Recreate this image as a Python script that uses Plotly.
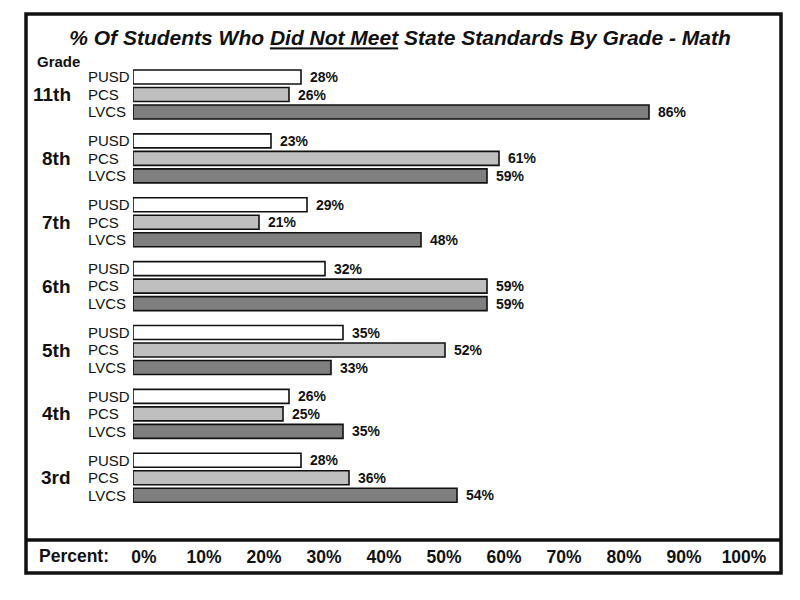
#!/usr/bin/env python3

import plotly.graph_objects as go

# data
grades = ["11th", "8th", "7th", "6th", "5th", "4th", "3rd"]
schools = ["PUSD", "PCS", "LVCS"]
pusd = [28, 23, 29, 32, 35, 26, 28]
pcs = [26, 61, 21, 59, 52, 25, 36]
lvcs = [86, 59, 48, 59, 33, 35, 54]
x_ticks = [0, 10, 20, 30, 40, 50, 60, 70, 80, 90, 100]

series = [pusd, pcs, lvcs]
colors = ["#ffffff", "#bfbfbf", "#7f7f7f"]

# one slot per bar, small gap between grade groups
group_step = 3.65

def slot(g, k):
    return g * group_step + k

# page layout in window pixels; the page body has an 8px margin
OFF = 8
W, H = 800 - OFF, 600 - OFF
ml, mr, mt, mb = 84 - OFF, 19, 14 - OFF, 60
pw, ph = W - ml - mr, H - mt - mb

def px(x):
    return (x - OFF - ml) / pw

def py(y):
    return (H - mb - (y - OFF)) / ph

sans = "Liberation Sans, Arial, sans-serif"

fig = go.Figure()
for k, name in enumerate(schools):
    fig.add_trace(go.Bar(
        x=series[k],
        y=[slot(g, k) for g in range(len(grades))],
        orientation="h",
        width=0.8,
        name=name,
        marker=dict(color=colors[k], line=dict(color="#111111", width=1.6)),
        showlegend=False,
        hoverinfo="x",
    ))

annotations = []
# value labels at end of each bar
for k in range(len(schools)):
    for g in range(len(grades)):
        annotations.append(dict(
            x=series[k][g], y=slot(g, k), xref="x", yref="y",
            text=f"<b>{series[k][g]}%</b>", showarrow=False,
            xanchor="left", yanchor="middle", xshift=7,
            font=dict(family=sans, size=14, color="#111111"),
        ))
# grade labels
for g, name in enumerate(grades):
    annotations.append(dict(
        x=px(73), y=slot(g, 1), xref="paper", yref="y",
        text=f"<b>{name}</b>", showarrow=False,
        xanchor="right", yanchor="middle",
        font=dict(family=sans, size=19, color="#111111"),
    ))
annotations.append(dict(
    x=px(35), y=py(61), xref="paper", yref="paper",
    text="<b>Grade</b>", showarrow=False, xanchor="left", yanchor="middle",
    font=dict(family=sans, size=15, color="#111111"),
))
annotations.append(dict(
    x=px(37), y=py(556), xref="paper", yref="paper",
    text="<b>Percent:</b>", showarrow=False, xanchor="left", yanchor="middle",
    font=dict(family=sans, size=17.5, color="#111111"),
))

shapes = [
    # outer frame
    dict(type="rect", xref="paper", yref="paper",
         x0=px(26), x1=px(781), y0=py(573), y1=py(14),
         line=dict(color="#111111", width=3.5)),
    # divider above the percent row
    dict(type="line", xref="paper", yref="paper",
         x0=px(26), x1=px(781), y0=py(540), y1=py(540),
         line=dict(color="#111111", width=3.5)),
]

fig.update_layout(
    width=W, height=H,
    margin=dict(l=ml, r=mr, t=mt, b=mb),
    paper_bgcolor="white", plot_bgcolor="white",
    barmode="overlay",
    title=dict(
        text="<b><i>% Of Students Who <u>Did Not Meet</u> State Standards By Grade - Math</i></b>",
        x=(400 - OFF) / W, xref="container", xanchor="center",
        y=1 - (38 - OFF) / H, yref="container", yanchor="middle",
        font=dict(family=sans, size=21, color="#111111"),
    ),
    xaxis=dict(
        domain=[px(133), 1], range=[0, (781 - 133) / 6],
        tickvals=x_ticks, ticktext=[f"<b>{t}%</b>" for t in x_ticks],
        showgrid=False, zeroline=False, showline=False, ticks="",
        ticklabelshift=11, ticklabelstandoff=4,
        tickfont=dict(family=sans, size=17.5, color="#111111"),
        fixedrange=True,
    ),
    yaxis=dict(
        anchor="free", position=0,
        range=[(540 - 77) / 17.5, -(77 - 14) / 17.5],
        tickvals=[slot(g, k) for g in range(len(grades)) for k in range(len(schools))],
        ticktext=[s for g in range(len(grades)) for s in schools],
        ticklabelposition="inside", ticks="",
        showgrid=False, zeroline=False, showline=False,
        tickfont=dict(family=sans, size=15, color="#111111"),
        fixedrange=True,
    ),
    annotations=annotations,
    shapes=shapes,
)

fig.write_html("out.html")
